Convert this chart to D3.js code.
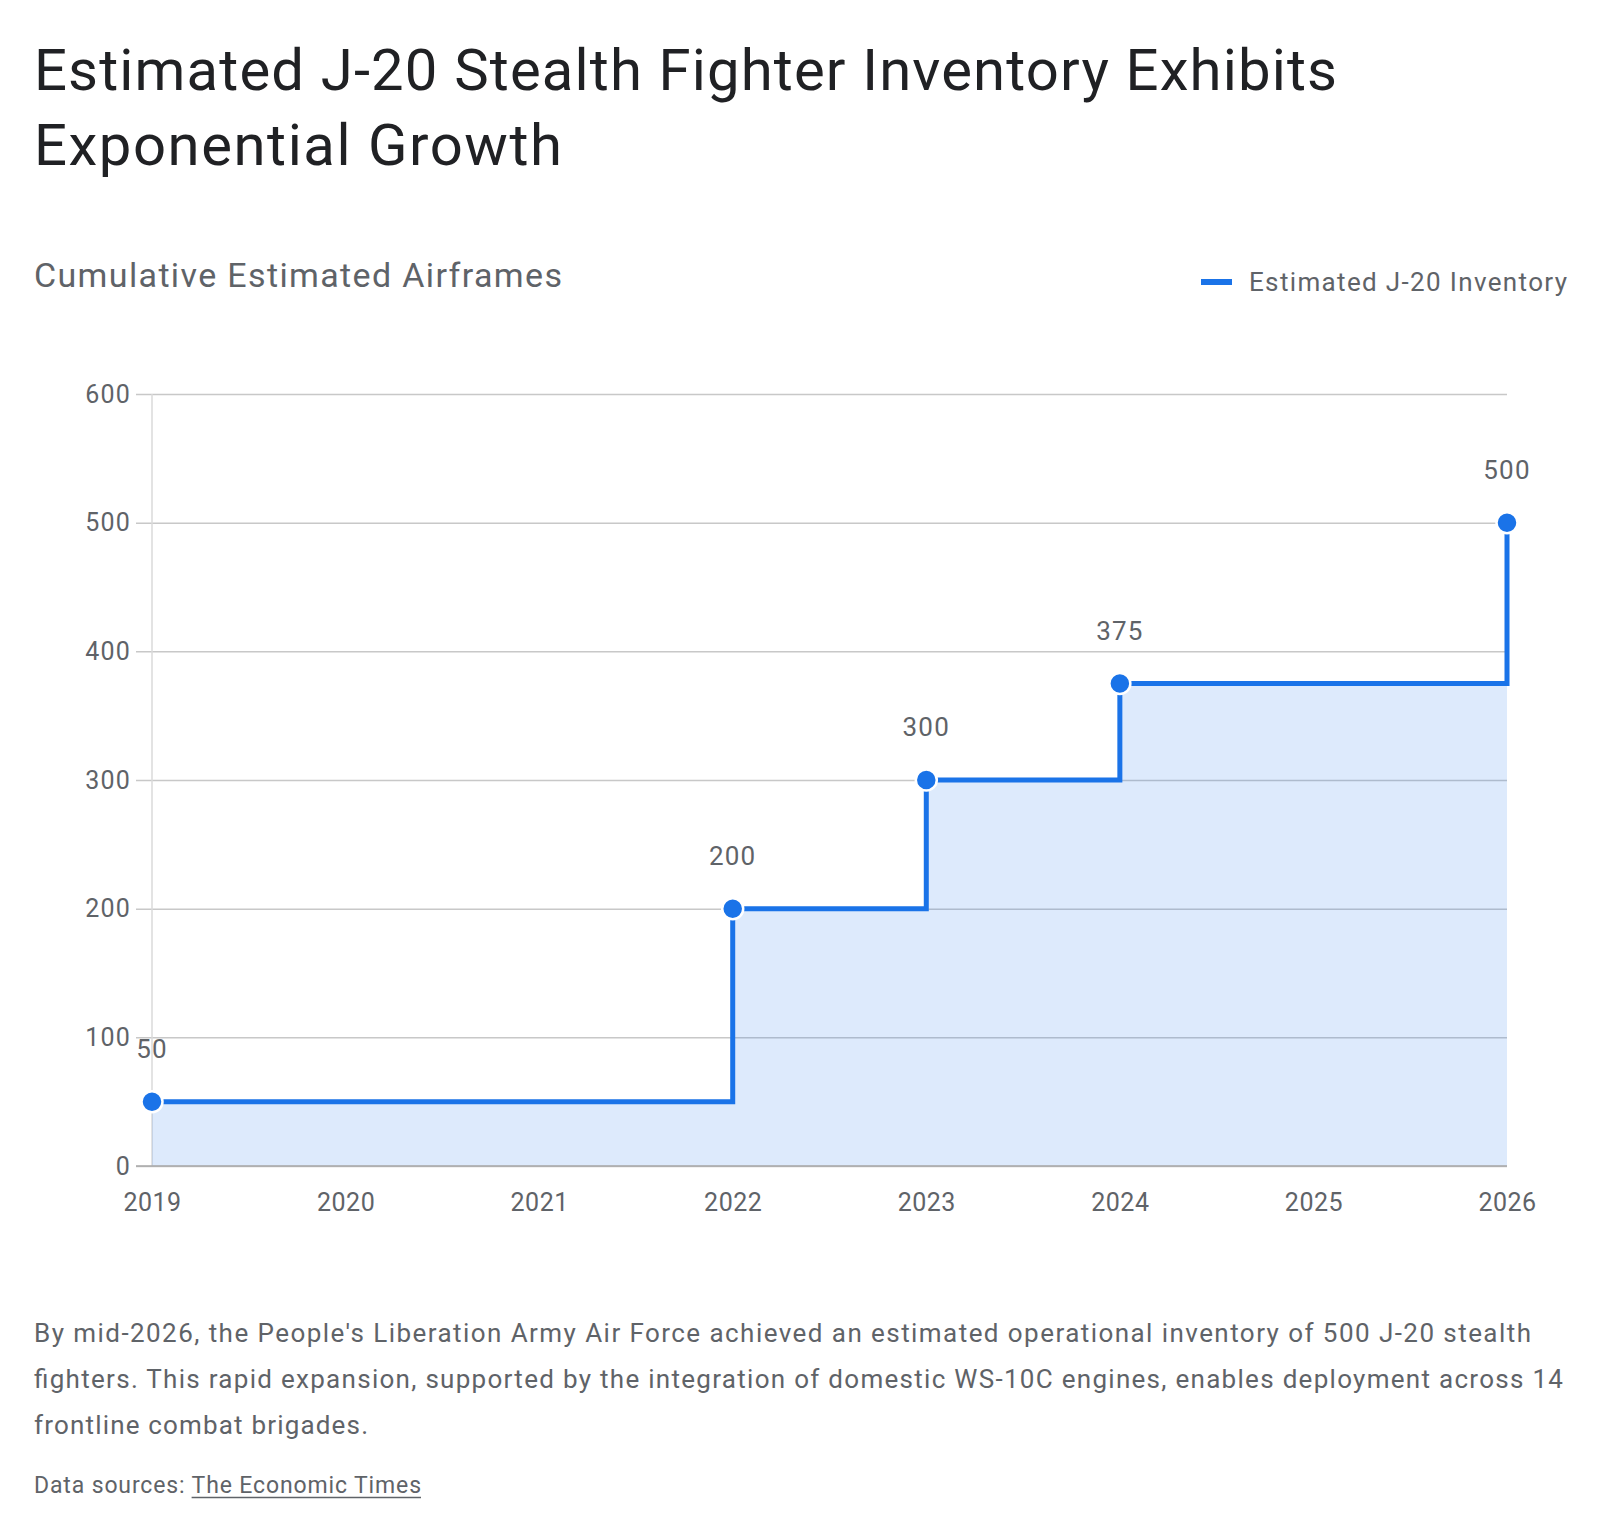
<!DOCTYPE html>
<html>
<head>
<meta charset="utf-8">
<script src="https://cdn.jsdelivr.net/npm/d3@7"></script>
<style>
  body { margin: 0; background: #fff; }
  svg { display: block; }
  text { font-family: Roboto, "Noto Sans", sans-serif; }
</style>
</head>
<body>
<script>
// chart data
const years = [2019, 2022, 2023, 2024, 2026];
const inventory = [50, 200, 300, 375, 500];
const yTicks = [0, 100, 200, 300, 400, 500, 600];
const xTicks = [2019, 2020, 2021, 2022, 2023, 2024, 2025, 2026];

const titleLines = ["Estimated J-20 Stealth Fighter Inventory Exhibits", "Exponential Growth"];
const subtitle = "Cumulative Estimated Airframes";
const seriesName = "Estimated J-20 Inventory";
const noteLines = [
  "By mid-2026, the People's Liberation Army Air Force achieved an estimated operational inventory of 500 J-20 stealth",
  "fighters. This rapid expansion, supported by the integration of domestic WS-10C engines, enables deployment across 14",
  "frontline combat brigades."
];

const W = 1600, H = 1534;
const blue = "#1a73e8";
const grey = "#5f6368";

// widths the reference text spans (Roboto is narrower than the original face)
const titleWidths = [1303, 528];
const noteWidths = [1497, 1529, 334];

const svg = d3.select("body").append("svg")
  .attr("width", W)
  .attr("height", H);

// title + subtitle
svg.append("g").selectAll("text")
  .data(titleLines)
  .join("text")
  .attr("x", 34)
  .attr("y", (d, i) => 90 + i * 75)
  .attr("fill", "#202124")
  .attr("textLength", (d, i) => titleWidths[i])
  .attr("lengthAdjust", "spacing")
  .style("font-size", "58px")
  .text(d => d);

svg.append("text")
  .attr("x", 34)
  .attr("y", 287)
  .attr("fill", grey)
  .attr("textLength", 528)
  .attr("lengthAdjust", "spacing")
  .style("font-size", "34px")
  .text(subtitle);

// legend
const legend = svg.append("g");
legend.append("line")
  .attr("x1", 1201).attr("x2", 1232)
  .attr("y1", 282).attr("y2", 282)
  .attr("stroke", blue)
  .attr("stroke-width", 6);
legend.append("text")
  .attr("x", 1249)
  .attr("y", 291)
  .attr("fill", grey)
  .attr("textLength", 318)
  .attr("lengthAdjust", "spacing")
  .style("font-size", "26px")
  .text(seriesName);

// plot area
const x = d3.scaleLinear().domain([2019, 2026]).range([152, 1507]);
const y = d3.scaleLinear().domain([0, 600]).range([1166, 394]);

const data = years.map((yr, i) => ({ year: yr, value: inventory[i] }));

// gridlines / y axis
const yAxis = d3.axisLeft(y)
  .tickValues(yTicks)
  .tickSize(-(1507 - 136))
  .tickPadding(6)
  .tickFormat(d3.format("d"));

const gy = svg.append("g")
  .attr("transform", "translate(136,0)")
  .call(yAxis);
gy.select(".domain").remove();
gy.selectAll(".tick line")
  .attr("stroke", "#c8c8c8")
  .attr("stroke-width", 1.5);
gy.selectAll(".tick text")
  .attr("fill", grey)
  .attr("x", -5)
  .style("font-size", "25px")
  .style("letter-spacing", "1.2px")
  .style("font-family", "Roboto, sans-serif");

// vertical axis line
svg.append("line")
  .attr("x1", x(2019)).attr("x2", x(2019))
  .attr("y1", y(600)).attr("y2", y(0))
  .attr("stroke", "#dadada")
  .attr("stroke-width", 1.5);

// x axis labels
const xAxis = d3.axisBottom(x)
  .tickValues(xTicks)
  .tickSize(0)
  .tickPadding(27)
  .tickFormat(d3.format("d"));
const gx = svg.append("g")
  .attr("transform", `translate(0,${y(0)})`)
  .call(xAxis);
gx.select(".domain").remove();
gx.selectAll(".tick text")
  .attr("fill", grey)
  .style("font-size", "25px")
  .style("letter-spacing", "0.5px")
  .style("font-family", "Roboto, sans-serif");

// area + step line
const area = d3.area()
  .x(d => x(d.year))
  .y0(y(0))
  .y1(d => y(d.value))
  .curve(d3.curveStepAfter);

const line = d3.line()
  .x(d => x(d.year))
  .y(d => y(d.value))
  .curve(d3.curveStepAfter);

svg.append("path")
  .datum(data)
  .attr("d", area)
  .attr("fill", blue)
  .attr("fill-opacity", 0.15);

// baseline
svg.append("line")
  .attr("x1", 136).attr("x2", 1507)
  .attr("y1", y(0)).attr("y2", y(0))
  .attr("stroke", "#a8a8a8")
  .attr("stroke-width", 1.5);

svg.append("path")
  .datum(data)
  .attr("d", line)
  .attr("fill", "none")
  .attr("stroke", blue)
  .attr("stroke-width", 5);

svg.append("g").selectAll("circle")
  .data(data)
  .join("circle")
  .attr("cx", d => x(d.year))
  .attr("cy", d => y(d.value))
  .attr("r", 10.5)
  .attr("fill", blue)
  .attr("stroke", "#fff")
  .attr("stroke-width", 2.5);

svg.append("g").selectAll("text")
  .data(data)
  .join("text")
  .attr("x", d => x(d.year))
  .attr("y", d => y(d.value) - 44)
  .attr("text-anchor", "middle")
  .attr("fill", grey)
  .style("font-size", "26px")
  .style("letter-spacing", "1.2px")
  .text(d => d.value);

// footer note
svg.append("g").selectAll("text")
  .data(noteLines)
  .join("text")
  .attr("x", 34)
  .attr("y", (d, i) => 1342 + i * 46)
  .attr("fill", grey)
  .attr("textLength", (d, i) => noteWidths[i])
  .attr("lengthAdjust", "spacing")
  .style("font-size", "26px")
  .text(d => d);

const src = svg.append("text")
  .attr("x", 34)
  .attr("y", 1493)
  .attr("fill", grey)
  .attr("textLength", 387)
  .attr("lengthAdjust", "spacing")
  .style("font-size", "23px");
src.append("tspan").text("Data sources: ");
const link = src.append("tspan").text("The Economic Times");

// continuous underline under the link (textLength spacing breaks the native one)
const lb = link.node().getBBox();
svg.append("line")
  .attr("x1", lb.x).attr("x2", lb.x + lb.width)
  .attr("y1", 1497.5).attr("y2", 1497.5)
  .attr("stroke", grey)
  .attr("stroke-width", 1.5);
</script>
</body>
</html>
